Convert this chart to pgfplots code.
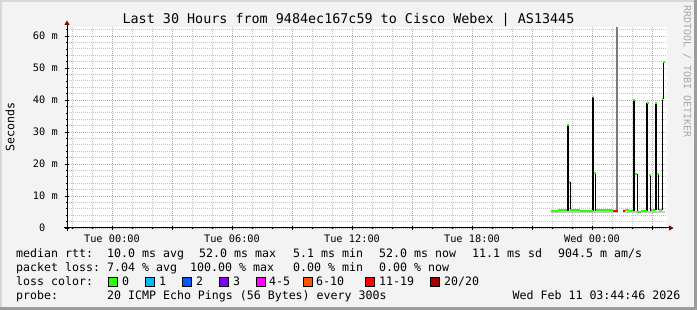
\documentclass[border=0pt]{standalone}
\usepackage{pgfplots}
\pgfplotsset{compat=1.18}
\usepackage{fontspec}
\setmainfont{DejaVu Sans Mono}
\setmonofont{DejaVu Sans Mono}
\definecolor{bg}{HTML}{F3F3F3}
\definecolor{framedark}{HTML}{9C9C9C}
\definecolor{framelight}{HTML}{D8D8D8}
\definecolor{lgreen}{HTML}{26FF00}
\definecolor{lcyan}{HTML}{00B8FF}
\definecolor{lblue}{HTML}{0059FF}
\definecolor{lviolet}{HTML}{7E00FF}
\definecolor{lmag}{HTML}{FF00FF}
\definecolor{lorange}{HTML}{FF5500}
\definecolor{lred}{HTML}{FF0000}
\definecolor{ldred}{HTML}{A10000}
\definecolor{mgrid}{HTML}{F09090}
\definecolor{ngrid}{HTML}{C4C4C4}
\definecolor{arrowc}{HTML}{8B0000}
\definecolor{smokegray}{HTML}{7A7A7A}
\definecolor{smokelight}{HTML}{C8C8C8}
\definecolor{wm}{HTML}{A8A8A8}
\newcommand\tf{\ttfamily\fontsize{10.3}{12}\selectfont}
\newcommand\lf{\ttfamily\fontsize{11.6}{13}\selectfont}
\begin{document}
\begin{tikzpicture}
\begin{scope}[x=1pt,y=1pt]
\path[use as bounding box] (0,0) rectangle (697,310);
\fill[framedark] (0,0) rectangle (697,310);
\fill[framelight] (0,3) rectangle (694,310);
\fill[bg] (2,3) rectangle (694,308);
\end{scope}
\begin{axis}[
  at={(67pt,82pt)}, anchor=south west,
  scale only axis, width=600pt, height=200.5pt,
  xmin=-2.25, xmax=27.75, ymin=0, ymax=62.66,
  axis line style={draw=none},
  axis background/.style={fill=white},
  xtick={0,3,...,27},
  xticklabels={Tue 00:00,,Tue 06:00,,Tue 12:00,,Tue 18:00,,Wed 00:00,},
  minor xtick={-2,-1,1,2,4,5,7,8,10,11,13,14,16,17,19,20,22,23,25,26},
  ytick={0,10,...,60},
  yticklabels={0\phantom{xm},10 m,20 m,30 m,40 m,50 m,60 m},
  minor ytick={2,4,6,8,12,14,16,18,22,24,26,28,32,34,36,38,42,44,46,48,52,54,56,58,62},
  grid=both,
  major grid style={mgrid, line width=0.8pt, dash pattern=on 1pt off 1pt},
  minor grid style={ngrid, line width=0.8pt, dash pattern=on 1pt off 1pt},
  xtick pos=left, ytick pos=left,
  tick align=center, major tick length=4pt, minor tick length=2pt,
  tick style={black, line width=0.6pt},
  xticklabel style={font=\tf, anchor=base, yshift=-12.75pt, inner sep=0pt},
  yticklabel style={font=\tf, anchor=east, xshift=-7pt, inner sep=0pt},
]
% light smoke near baseline
\addplot[smokelight, line width=2pt, jump mark left, forget plot] coordinates {(21.95,4.9) (25.30,4.9)};
\addplot[smokelight, line width=2pt, jump mark left, forget plot] coordinates {(25.535,4.9) (27.65,4.9)};
% dark smoke bars
\addplot[black, line width=1.7pt, forget plot] coordinates {(22.79,5.4) (22.79,32.1)};
\addplot[black, line width=1pt, forget plot] coordinates {(22.905,5.4) (22.905,14.4)};
\addplot[black, line width=1.7pt, forget plot] coordinates {(24.05,5.4) (24.05,41.0)};
\addplot[black, line width=1pt, forget plot] coordinates {(24.15,5.4) (24.15,17.3)};
\addplot[smokegray, line width=2pt, forget plot] coordinates {(25.25,5.4) (25.25,62.66)};
\addplot[black, line width=1.7pt, forget plot] coordinates {(26.09,5.3) (26.09,40.0)};
\addplot[black, line width=1pt, forget plot] coordinates {(26.25,5.3) (26.25,16.9)};
\addplot[black, line width=1.7pt, forget plot] coordinates {(26.765,5.3) (26.765,39.2)};
\addplot[black, line width=1pt, forget plot] coordinates {(26.9,5.3) (26.9,16.7)};
\addplot[black, line width=1.7pt, forget plot] coordinates {(27.2,5.5) (27.2,39.0)};
\addplot[black, line width=1pt, forget plot] coordinates {(27.315,5.5) (27.315,16.9)};
\addplot[black, line width=1.3pt, forget plot] coordinates {(27.52,5.5) (27.52,40.3)};
\addplot[black, line width=1pt, forget plot] coordinates {(27.59,40.3) (27.59,52.0)};
% median rtt, coloured by loss
\addplot[lgreen, line width=2pt, jump mark left, forget plot] coordinates {
(21.95,5.2) (22.30,5.6) (22.75,32.1) (22.835,14.4) (22.915,5.7) (23.40,5.3)
(24.035,41.0) (24.115,17.3) (24.20,5.6) (25.05,5.6)};
\addplot[lred, line width=2pt, jump mark left, forget plot] coordinates {(25.05,5.4) (25.30,5.4)};
\addplot[lred, line width=2pt, jump mark left, forget plot] coordinates {(25.535,5.4) (25.625,5.4)};
\addplot[lgreen, line width=2pt, jump mark left, forget plot] coordinates {
(25.625,5.6) (25.85,5.4) (26.065,40.0) (26.165,16.9) (26.265,5.1) (26.45,5.3)
(26.735,39.2) (26.835,16.7) (26.925,5.5) (27.16,39.0) (27.26,16.9) (27.35,5.5)
(27.485,40.3) (27.565,52.0) (27.65,52.0)};
\end{axis}
\begin{scope}[x=1pt,y=1pt]
% axis lines and arrows
\draw[black, line width=1pt] (64,82) -- (669,82);
\fill[arrowc] (669,84.6) -- (673.6,82) -- (669,79.4) -- cycle;
\draw[black, line width=1pt] (67,79) -- (67,285);
\fill[arrowc] (64.4,285) -- (67,289.5) -- (69.6,285) -- cycle;
% title and labels
\node[anchor=base, inner sep=0pt, font=\ttfamily\fontsize{13.4}{15}\selectfont] at (348.5,286) {Last 30 Hours from 9484ec167c59 to Cisco Webex | AS13445};
\node[rotate=90, inner sep=0pt, font=\lf] at (10,183) {Seconds};
\node[rotate=-90, anchor=west, inner sep=0pt, text=wm, font=\ttfamily\fontsize{10}{12}\selectfont] at (687,305) {RRDTOOL / TOBI OETIKER};
% legend
\begin{scope}[every node/.style={anchor=base west, inner sep=0pt, font=\lf}]
\node at (16,52) {median rtt:};
\node at (107,52) {10.0 ms avg};
\node at (199,52) {52.0 ms max};
\node at (293,52) {5.1 ms min};
\node at (379,52) {52.0 ms now};
\node at (472,52) {11.1 ms sd};
\node at (558,52) {904.5 m am/s};
\node at (16,38) {packet loss:};
\node at (107,38) {7.04 \% avg};
\node at (190,38) {100.00 \% max};
\node at (293,38) {0.00 \% min};
\node at (379,38) {0.00 \% now};
\node at (16,24) {loss color:};
\node at (122,24) {0};
\node at (159,24) {1};
\node at (196,24) {2};
\node at (233,24) {3};
\node at (269,24) {4-5};
\node at (316,24) {6-10};
\node at (379,24) {11-19};
\node at (444,24) {20/20};
\node at (16,10) {probe:};
\node at (107,10) {20 ICMP Echo Pings (56 Bytes) every 300s};
\node[anchor=base east] at (680.5,10) {Wed Feb 11 03:44:46 2026};
\end{scope}
\foreach \xs/\c in {108/lgreen,145.5/lcyan,182.5/lblue,219/lviolet,256/lmag,303/lorange,365/lred,430.5/ldred}
  \draw[fill=\c, draw=black, line width=0.9pt] (\xs,24) rectangle ++(9,9);
\end{scope}
\end{tikzpicture}
\end{document}
